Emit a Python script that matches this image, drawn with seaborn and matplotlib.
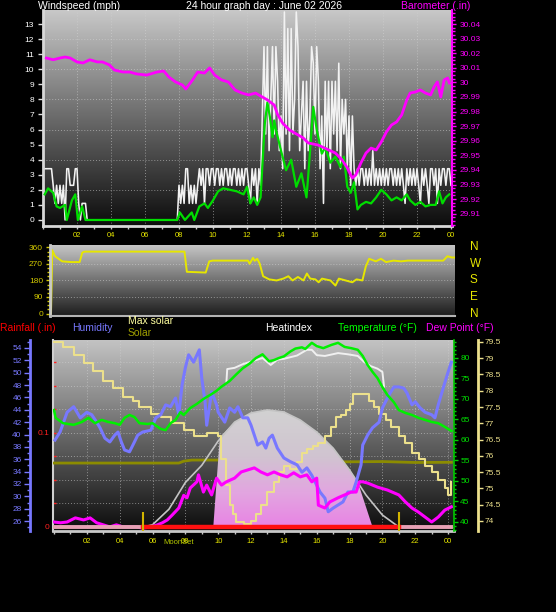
import numpy as np
import matplotlib
matplotlib.use("Agg")
import matplotlib.pyplot as plt
import seaborn as sns
from matplotlib.patches import Polygon
from matplotlib.ticker import MultipleLocator, FixedLocator, FuncFormatter
from matplotlib.colors import LinearSegmentedColormap

plt.rcParams['font.family'] = ['Liberation Sans', 'DejaVu Sans']

W, H = 556, 612

# ------------------------------------------------------------------ data
hour_ticks = [2, 4, 6, 8, 10, 12, 14, 16, 18, 20, 22, 24]
hour_labels = ['02', '04', '06', '08', '10', '12', '14', '16', '18', '20', '22', '00']

# wind gust (mph), one reading every 0.1 h
gust_mph = [
    3.4, 3.4, 3.4, 3.4, 3.4, 3.4, 2.3, 1.1, 2.3, 1.1,
    2.3, 1.1, 2.3, 0.0, 3.4, 3.4, 2.3, 2.3, 2.3, 3.4,
    3.4, 1.1, 0.0, 1.1, 1.1, 1.1, 0.0, 0.0, 0.0, 0.0,
    0.0, 0.0, 0.0, 0.0, 0.0, 0.0, 0.0, 0.0, 0.0, 0.0,
    0.0, 0.0, 0.0, 0.0, 0.0, 0.0, 0.0, 0.0, 0.0, 0.0,
    0.0, 0.0, 0.0, 0.0, 0.0, 0.0, 0.0, 0.0, 0.0, 0.0,
    0.0, 0.0, 0.0, 0.0, 0.0, 0.0, 0.0, 0.0, 0.0, 0.0,
    0.0, 0.0, 0.0, 0.0, 0.0, 0.0, 0.0, 0.0, 0.0, 0.0,
    2.3, 1.1, 2.3, 1.1, 3.4, 3.4, 1.1, 2.3, 1.1, 2.3,
    1.1, 2.3, 3.4, 2.3, 3.4, 1.1, 3.4, 3.4, 2.3, 3.4,
    3.4, 2.3, 3.4, 3.4, 2.3, 3.4, 2.3, 3.4, 3.4, 2.3,
    3.4, 2.3, 3.4, 3.4, 2.3, 3.4, 2.3, 3.4, 2.3, 3.4,
    3.4, 2.3, 1.1, 3.4, 2.3, 3.4, 1.1, 3.4, 2.3, 6.9,
    11.5, 5.7, 11.5, 4.6, 8.0, 11.5, 5.7, 11.5, 9.2, 4.6,
    6.9, 3.4, 13.8, 5.7, 12.7, 4.6, 12.7, 5.7, 8.0, 13.8,
    11.5, 4.6, 6.9, 9.2, 3.4, 9.2, 4.6, 6.9, 11.5, 10.4,
    5.7, 11.5, 9.2, 3.4, 6.9, 1.1, 9.2, 4.6, 9.2, 3.4,
    9.2, 5.7, 9.2, 4.6, 10.4, 3.4, 8.0, 5.7, 8.0, 3.4,
    6.9, 2.3, 6.9, 3.4, 2.3, 3.4, 2.3, 3.4, 3.4, 2.3,
    3.4, 2.3, 3.4, 2.3, 4.6, 2.3, 3.4, 2.3, 3.4, 2.3,
    3.4, 2.3, 3.4, 2.3, 3.4, 3.4, 2.3, 3.4, 2.3, 3.4,
    2.3, 3.4, 2.3, 1.1, 3.4, 2.3, 3.4, 2.3, 3.4, 2.3,
    3.4, 2.3, 1.1, 3.4, 2.3, 3.4, 2.3, 1.1, 3.4, 3.4,
    2.3, 3.4, 1.1, 3.4, 2.3, 3.4, 3.4, 2.3, 3.4, 3.4,
    2.3]
gust_step_h = 0.1

wind_avg = [(0.1, 1.7), (0.3, 2.1), (0.6, 1.8), (0.8, 0.9), (1.0, 0.8), (1.3, 1.0),
            (1.4, 0.0), (1.7, 1.3), (1.9, 1.7), (2.05, 0.0), (2.3, 0.9), (2.5, 0.0),
            (7.9, 0.0), (8.05, 0.5), (8.35, 0.0), (8.75, 0.5), (8.9, 0.0), (9.2, 0.9),
            (9.5, 1.1), (9.7, 0.8), (10.0, 1.3), (10.3, 1.9), (10.6, 2.1), (11.0, 2.0),
            (11.4, 1.9), (11.8, 1.7), (12.0, 2.2), (12.2, 1.1), (12.4, 1.5), (12.6, 1.0),
            (12.8, 1.5), (12.9, 3.5), (13.05, 6.4), (13.2, 7.8), (13.35, 6.8), (13.5, 5.5),
            (13.6, 6.6), (13.7, 6.0), (14.0, 4.6), (14.3, 3.3), (14.6, 4.0), (14.9, 2.2),
            (15.2, 3.1), (15.5, 1.5), (15.6, 2.9), (15.9, 7.5), (16.1, 6.0), (16.4, 4.4),
            (16.6, 4.8), (16.9, 3.8), (17.2, 4.2), (17.5, 3.5), (17.7, 4.2), (17.9, 2.2),
            (18.1, 1.8), (18.3, 2.5), (18.5, 0.7), (18.7, 1.0), (19.0, 1.2), (19.3, 1.1),
            (19.6, 1.5), (19.9, 2.0), (20.2, 1.7), (20.5, 1.3), (20.8, 1.5), (21.1, 1.3),
            (21.4, 1.7), (21.6, 1.3), (21.9, 1.0), (22.2, 1.2), (22.5, 0.9), (22.8, 1.0),
            (23.1, 1.0), (23.3, 1.9), (23.5, 1.1), (23.7, 1.5), (23.9, 1.7)]

barometer = [(0.2, 30.0167), (0.6, 30.0155), (1.0, 30.0167), (1.3, 30.0174), (1.6, 30.0167),
             (2.0, 30.0140), (2.35, 30.0133), (2.75, 30.0155), (3.2, 30.0140), (3.5, 30.0140),
             (3.9, 30.0120), (4.2, 30.0085), (4.7, 30.0071), (5.1, 30.0071), (5.5, 30.0058),
             (6.1, 30.0050), (6.7, 30.0071), (7.1, 30.0078), (7.4, 30.0037), (7.8, 30.0003),
             (8.2, 29.9982), (8.4, 29.9955), (8.8, 30.0017), (9.1, 30.0071), (9.5, 30.0064),
             (9.8, 30.0099), (10.1, 30.0050), (10.5, 30.0017), (10.9, 30.0003), (11.3, 29.9948),
             (11.7, 29.9927), (12.1, 29.9914), (12.5, 29.9927), (12.9, 29.9900), (13.2, 29.9880),
             (13.6, 29.9845), (13.8, 29.9780), (14.1, 29.9720), (14.5, 29.9674), (15.3, 29.9620),
             (15.6, 29.9585), (16.2, 29.9570), (16.8, 29.9537), (17.2, 29.9516), (17.6, 29.9468),
             (17.9, 29.9414), (18.1, 29.9366), (18.2, 29.9345), (18.4, 29.9366), (18.7, 29.9448),
             (19.0, 29.9516), (19.3, 29.9550), (19.6, 29.9537), (19.9, 29.9592), (20.2, 29.9660),
             (20.5, 29.9708), (20.8, 29.9729), (21.1, 29.9777), (21.4, 29.9880), (21.6, 29.9927),
             (21.9, 29.9934), (22.2, 29.9948), (22.5, 29.9927), (22.8, 29.9914), (23.0, 29.9968),
             (23.2, 30.0003), (23.4, 29.9900), (23.6, 30.0017), (23.8, 30.0030), (23.9, 29.9996)]
baro_ticks = [29.91, 29.92, 29.93, 29.94, 29.95, 29.96, 29.97, 29.98, 29.99,
              30.00, 30.01, 30.02, 30.03, 30.04]

wind_dir = [(0.0, 0), (0.07, 345), (0.24, 312), (0.45, 298), (0.66, 284), (1.2, 280),
            (1.7, 280), (1.86, 332), (2.0, 337), (7.93, 337), (8.07, 227), (9.19, 223),
            (9.4, 284), (9.6, 288), (11.7, 288), (11.8, 271), (12.0, 303), (12.1, 287),
            (12.25, 298), (12.4, 271), (12.6, 203), (12.96, 186), (13.4, 180), (13.8, 190),
            (14.1, 203), (14.35, 180), (14.67, 199), (15.0, 180), (15.2, 218), (15.4, 190),
            (15.7, 186), (15.9, 170), (16.1, 190), (16.6, 180), (16.9, 152), (17.1, 190),
            (17.5, 180), (17.9, 170), (18.15, 186), (18.5, 180), (18.7, 256), (18.9, 298),
            (19.3, 284), (19.6, 298), (19.9, 280), (20.35, 288), (20.8, 284), (21.2, 288),
            (23.3, 288), (23.55, 312), (23.8, 305), (24.0, 305)]
dir_ticks = [0, 90, 180, 270, 360]
compass = ['N', 'E', 'S', 'W', 'N']

humidity = [(0.06, 39.1), (0.37, 40.4), (0.8, 43.6), (1.2, 44.5), (1.6, 42.7), (2.0, 43.6),
            (2.3, 43.2), (2.6, 42.0), (2.8, 41.1), (3.1, 39.4), (3.4, 38.8), (3.7, 39.9),
            (3.9, 40.4), (4.1, 38.8), (4.3, 37.5), (4.6, 37.2), (4.9, 38.8), (5.1, 39.9),
            (5.4, 40.4), (5.9, 40.7), (6.2, 42.7), (6.5, 43.2), (6.8, 44.8), (7.1, 44.5),
            (7.4, 45.9), (7.6, 43.2), (7.8, 48.0), (8.0, 50.8), (8.2, 52.9), (8.5, 51.7),
            (8.85, 53.7), (9.0, 49.1), (9.2, 45.3), (9.3, 41.5), (9.6, 46.9), (9.9, 44.8),
            (10.0, 43.6), (10.4, 42.0), (10.7, 44.3), (11.0, 43.6), (11.2, 44.5), (11.5, 42.7),
            (11.8, 42.7), (12.0, 41.5), (12.2, 39.9), (12.4, 38.3), (12.7, 38.8), (12.9, 37.8),
            (13.1, 39.4), (13.3, 39.9), (13.6, 37.8), (14.0, 36.2), (14.4, 35.6), (14.8, 35.1),
            (15.1, 33.9), (15.4, 34.6), (15.7, 33.4), (16.0, 31.8), (16.2, 30.7), (16.5, 29.7),
            (16.7, 27.5), (17.0, 28.1), (17.3, 28.6), (17.6, 29.1), (17.9, 30.7), (18.2, 30.7),
            (18.4, 32.3), (18.7, 35.1), (18.8, 38.3), (19.1, 39.9), (19.4, 41.1), (19.8, 42.0),
            (20.0, 44.3), (20.4, 46.4), (20.7, 47.7), (21.0, 47.7), (21.3, 47.5), (21.5, 46.7),
            (21.8, 44.8), (22.0, 45.3), (22.3, 44.3), (22.6, 43.6), (23.0, 43.2), (23.2, 42.7),
            (23.4, 44.8), (23.7, 47.5), (24.0, 50.1), (24.2, 51.7)]

temperature = [(0.0, 67.3), (0.1, 65.4), (0.55, 64.1), (1.2, 63.7), (1.7, 64.4), (2.1, 65.4),
               (2.5, 64.1), (2.9, 64.9), (3.3, 64.4), (3.7, 64.1), (4.0, 63.7), (4.3, 65.4),
               (4.6, 66.1), (4.9, 65.6), (5.2, 64.1), (5.7, 63.9), (6.0, 64.1), (6.5, 62.7),
               (6.8, 62.4), (7.1, 64.1), (7.4, 64.9), (7.7, 66.8), (7.9, 66.1), (8.3, 67.8),
               (8.7, 68.8), (9.1, 70.0), (9.6, 71.2), (9.9, 72.0), (10.2, 73.0), (10.7, 74.4),
               (11.1, 76.0), (11.5, 77.5), (11.9, 78.6), (12.3, 80.0), (12.7, 80.9), (13.1, 79.2),
               (13.4, 79.5), (13.7, 80.0), (14.0, 80.4), (14.4, 81.6), (14.7, 82.3), (15.1, 82.6),
               (15.3, 82.2), (15.7, 83.7), (16.0, 82.9), (16.4, 82.4), (16.9, 83.2), (17.3, 83.7),
               (17.7, 82.7), (18.1, 82.4), (18.5, 82.0), (18.8, 80.5), (19.1, 78.3), (19.4, 76.6),
               (19.7, 75.1), (20.0, 72.9), (20.3, 71.0), (20.7, 69.2), (21.0, 67.3), (21.4, 66.6),
               (21.8, 66.1), (22.2, 65.4), (22.6, 64.9), (23.0, 64.4), (23.4, 64.1), (23.8, 63.2),
               (24.2, 62.2)]

heat_index = [(10.5, 74.1), (10.55, 77.3), (11.0, 77.6), (11.5, 78.5), (11.9, 79.0),
              (12.3, 79.5), (12.7, 80.0), (13.2, 78.3), (13.6, 79.6), (14.0, 79.8),
              (14.8, 80.6), (15.4, 82.0), (15.7, 82.0), (16.0, 80.7), (16.5, 80.5),
              (17.3, 81.2), (17.9, 80.9), (18.5, 80.5), (18.9, 79.0), (19.3, 78.0),
              (19.7, 77.4), (20.0, 76.6), (20.1, 73.0)]

dew_point = [(0.0, 40.0), (0.4, 39.8), (0.8, 40.0), (1.3, 41.0), (1.8, 40.5), (2.2, 41.0),
             (2.6, 39.8), (3.0, 39.3), (3.4, 38.8), (3.8, 39.3), (4.2, 38.8), (4.6, 38.8),
             (5.0, 38.8), (5.4, 38.5), (5.9, 38.8), (6.3, 39.3), (6.6, 39.8), (6.9, 40.5),
             (7.2, 41.7), (7.6, 43.4), (7.9, 46.5), (8.1, 45.9), (8.3, 48.3), (8.7, 49.8),
             (8.8, 51.5), (9.1, 47.3), (9.3, 49.0), (9.6, 46.6), (9.9, 50.7), (10.2, 49.0),
             (10.5, 49.8), (11.0, 50.7), (11.4, 52.2), (11.8, 52.7), (12.2, 53.2), (12.6, 52.2),
             (13.0, 51.5), (13.4, 52.2), (13.8, 51.5), (14.2, 51.0), (14.6, 52.0), (15.0, 51.0),
             (15.4, 51.5), (15.7, 49.8), (16.0, 50.7), (16.1, 44.1), (16.5, 43.4), (16.8, 44.9),
             (17.3, 45.9), (17.7, 46.6), (18.1, 47.3), (18.4, 47.3), (18.6, 49.8), (18.8, 49.8),
             (19.1, 49.5), (19.7, 48.5), (20.3, 47.8), (21.0, 46.6), (21.4, 44.9), (21.8, 43.4),
             (22.2, 42.4), (22.6, 41.2), (23.0, 40.0), (23.4, 41.2), (23.8, 42.9), (24.2, 43.7)]

indoor = [(0.0, 79.5), (0.55, 79.35), (1.2, 79.1), (1.8, 78.85), (2.4, 78.6), (3.0, 78.3),
          (3.6, 78.1), (4.2, 77.8), (4.8, 77.7), (5.2, 77.5), (5.9, 77.3), (6.5, 77.2),
          (7.1, 77.0), (7.9, 76.8), (8.5, 76.6), (9.3, 76.7), (10.0, 76.6), (10.2, 75.9),
          (10.5, 75.1), (10.7, 74.5), (10.9, 74.2), (11.1, 73.96), (11.6, 73.9), (12.0, 74.0),
          (12.3, 74.2), (12.6, 74.5), (13.0, 74.9), (13.4, 75.2), (13.7, 75.5), (14.0, 75.7),
          (14.4, 75.6), (14.8, 75.8), (15.1, 76.1), (15.4, 76.2), (15.8, 76.3), (16.1, 76.4),
          (16.5, 76.6), (16.9, 76.9), (17.2, 77.2), (17.5, 77.25), (17.8, 77.4), (18.0, 77.6),
          (18.2, 77.9), (18.9, 77.9), (19.2, 77.7), (19.5, 77.5), (19.8, 77.3), (20.2, 77.1),
          (20.5, 76.9), (21.0, 76.6), (21.4, 76.4), (21.8, 76.1), (22.2, 75.9), (22.6, 75.7),
          (23.0, 75.5), (23.4, 75.25), (23.8, 75.0), (24.0, 74.8), (24.2, 75.2)]

max_solar = [(5.44, 0), (6.0, 12), (7.0, 95), (8.0, 238), (9.0, 330), (10.0, 460),
             (11.0, 561), (12.0, 610), (13.0, 626), (14.0, 615), (15.0, 572), (16.0, 508),
             (17.0, 422), (18.0, 305), (19.0, 171), (20.0, 64), (21.0, 0)]
solar_fill = [(9.7, 0), (10.1, 480), (11.0, 561), (12.0, 610), (13.0, 626), (14.0, 615),
              (15.0, 572), (16.0, 508), (17.0, 422), (18.0, 305), (18.5, 241), (19.4, 0)]
solar_level = [(0.0, 342), (7.6, 342), (7.9, 352), (8.4, 358), (10.0, 358), (17.0, 348),
               (20.0, 350), (22.0, 345), (24.2, 346)]

rain_t = [0.0, 24.2]
rain_in = [0.0, 0.0]
sun_events = [5.44, 21.0]   # sunrise, sunset
daylight_rain = [0.0, 0.0]


def unzip(pairs):
    a = np.array(pairs, dtype=float)
    return a[:, 0], a[:, 1]


# ------------------------------------------------------------------ helpers
fig = plt.figure(figsize=(W / 100, H / 100), dpi=100)
fig.patch.set_facecolor('black')
PX = 72 / 100  # points per pixel


def rect(l, t, r, b):
    return [l / W, 1 - b / H, (r - l) / W, (b - t) / H]


def gradient(ax, top, bottom):
    g = np.linspace(bottom, top, 256)[:, None] / 255.0
    img = np.dstack([g, g, g])
    ax.imshow(img, extent=(0, 1, 0, 1), transform=ax.transAxes, origin='lower',
              aspect='auto', zorder=0, interpolation='bilinear')


def line(ax, x, y, color, lw, **kw):
    sns.lineplot(x=np.asarray(x, float), y=np.asarray(y, float), ax=ax, color=color,
                 linewidth=lw, estimator=None, sort=False, legend=False, **kw)


def hide(ax):
    for s in ax.spines.values():
        s.set_visible(False)


def ftext(x, y, s, color, size=7.5, **kw):
    fig.text(x / W, 1 - y / H, s, color=color, fontsize=size, ha='left',
             va='baseline', **kw)


DOT = (0, (1, 2))
GRID = dict(color='#d4d4d4', linestyle=DOT, linewidth=0.7, alpha=0.55)
XLAB = '#e6e600'

# ------------------------------------------------------------------ panel 1
ax1 = fig.add_axes(rect(43, 10, 452, 226))
ax1.set_facecolor('black')
gradient(ax1, 200, 12)
ax1.set_axisbelow(True)
for lv in range(2, 14, 2):
    ax1.axhline(lv, zorder=0.5, **GRID)
gust_t = np.arange(len(gust_mph)) * gust_step_h
line(ax1, gust_t, gust_mph, '#f2f2f2', 1.15, zorder=2)
wt, wv = unzip(wind_avg)
line(ax1, wt, wv, '#00dd00', 1.6, zorder=3)
ax1.set_xlim(0, 24.06)
ax1.set_ylim(-0.4, 13.93)
ax1.xaxis.set_major_locator(FixedLocator(hour_ticks))
ax1.set_xticklabels(hour_labels)
ax1.xaxis.set_minor_locator(MultipleLocator(1))
ax1.grid(axis='x', which='major', **GRID)
ax1.set_yticks(range(0, 14))
ax1.tick_params(axis='x', which='both', colors='#c8c8c8', labelcolor=XLAB,
                labelsize=5.5, length=2.5, width=1, pad=1.5)
ax1.tick_params(axis='y', colors='#e0e0e0', labelcolor='white', labelsize=6,
                length=3.5, width=1, pad=3)
hide(ax1)
for s in ('left', 'bottom'):
    ax1.spines[s].set_visible(True)
    ax1.spines[s].set_color('#d8d8d8')
    ax1.spines[s].set_linewidth(2)
ax1.set_xlabel('')
ax1.set_ylabel('')

ax1b = ax1.twinx()
bt, bv = unzip(barometer)
line(ax1b, bt, bv, '#ff00ff', 2.0)
ax1b.set_ylim(29.9016, 30.0496)
ax1b.set_yticks(baro_ticks)
ax1b.yaxis.set_major_formatter(FuncFormatter(
    lambda v, p: f"{v:.2f}".rstrip('0').rstrip('.')))
ax1b.yaxis.set_minor_locator(MultipleLocator(0.0025))
ax1b.tick_params(axis='y', which='major', colors='#ff00ff', labelcolor='#ff00ff',
                 labelsize=6, length=3, width=1, pad=2.5)
ax1b.tick_params(axis='y', which='minor', colors='#ff00ff', length=1.8, width=1)
hide(ax1b)
ax1b.spines['right'].set_visible(True)
ax1b.spines['right'].set_color('#ff00ff')
ax1b.spines['right'].set_linewidth(1.5)
ax1b.set_ylabel('')

ftext(38, 9.3, 'Windspeed (mph)', 'white')
ftext(186, 9.3, '24 hour graph day : June 02 2026', 'white')
ftext(401, 9.3, 'Barometer (.in)', '#ff00ff')

# ------------------------------------------------------------------ panel 2
ax2 = fig.add_axes(rect(50, 245, 455, 316))
ax2.set_facecolor('black')
gradient(ax2, 200, 28)
ax2.set_axisbelow(True)
for lv in dir_ticks[1:-1]:
    ax2.axhline(lv, zorder=0.5, **GRID)
dt, dv = unzip(wind_dir)
line(ax2, dt, dv, '#e6e600', 1.4)
ax2.set_xlim(-0.06, 24.0)
ax2.set_ylim(-13.6, 373)
ax2.set_xticks([])
ax2.set_yticks(dir_ticks)
ax2.yaxis.set_minor_locator(MultipleLocator(22.5))
ax2.tick_params(axis='y', which='major', colors='#d2c800', labelcolor='#d2c800',
                labelsize=6, length=3, width=1, pad=2)
ax2.tick_params(axis='y', which='minor', colors='#d2c800', length=2, width=1)
hide(ax2)
ax2.spines['left'].set_visible(True)
ax2.spines['left'].set_color('#c8c8c8')
ax2.spines['left'].set_linewidth(2)
ax2.spines['bottom'].set_visible(True)
ax2.spines['bottom'].set_color('#b4b4b4')
ax2.spines['bottom'].set_linewidth(1.5)
ax2.set_xlabel('')
ax2.set_ylabel('')
for deg, lab in zip(dir_ticks, compass):
    ax2.text((470 - 50) / 405, deg, lab, transform=ax2.get_yaxis_transform(),
             color='#e6e600', fontsize=8.5, ha='left', va='center', clip_on=False)

# ------------------------------------------------------------------ panel 3
ax3 = fig.add_axes(rect(53, 340, 454, 531))
ax3.set_facecolor('black')
gradient(ax3, 195, 12)
ax3.set_axisbelow(True)
ax3.set_xlim(-0.06, 24.36)
ax3.set_ylim(-0.0043, 0.1989)
ax3.xaxis.set_major_locator(FixedLocator(hour_ticks))
ax3.set_xticklabels(hour_labels)
ax3.xaxis.set_minor_locator(MultipleLocator(1))
ax3.set_yticks([0, 0.1])
ax3.set_yticklabels(['0', '0.1'])
ax3.yaxis.set_minor_locator(MultipleLocator(0.025))
ax3.grid(axis='x', which='major', **GRID)
ax3.grid(axis='y', which='both', **GRID)
ax3.tick_params(axis='x', which='both', colors='#c8c8c8', labelcolor=XLAB,
                labelsize=5.5, length=2.5, width=1, pad=2.6)
ax3.tick_params(axis='y', which='both', colors='#ff2020', labelcolor='#ff2020',
                labelsize=6, direction='in', length=2.5, width=1, pad=2.5)
hide(ax3)
ax3.spines['left'].set_visible(True)
ax3.spines['left'].set_color('#d0d0d0')
ax3.spines['left'].set_linewidth(1.5)
ax3.spines['bottom'].set_visible(True)
ax3.spines['bottom'].set_color('#c8c8c8')
ax3.spines['bottom'].set_linewidth(2)

# solar (dome + max solar curve)
ax_s = ax3.twinx()
hide(ax_s)
ax_s.set_yticks([])
st, sv = unzip(solar_level)
line(ax_s, st, sv, '#8c8c00', 2.0, zorder=0.9)
ft, fv = unzip(solar_fill)
dome = Polygon(np.column_stack([ft, fv]), closed=True, facecolor='none',
               edgecolor='none', transform=ax_s.transData)
ax_s.add_patch(dome)
dome_cmap = LinearSegmentedColormap.from_list(
    'dome', [(0.0, '#e884e4'), (0.3, '#e2a6e0'), (0.6, '#d0c4d0'), (1.0, '#d2d2d2')])
grad = np.linspace(0, 1, 256)[:, None]
im = ax_s.imshow(grad, cmap=dome_cmap, extent=(ft.min(), ft.max(), 0, fv.max()),
                 origin='lower', aspect='auto', zorder=1, interpolation='bilinear')
im.set_clip_path(dome)
mt, mv = unzip(max_solar)
line(ax_s, mt, mv, '#c4c4c4', 1.2, zorder=2)
ax_s.set_ylim(-21.4, 1000)
ax_s.set_ylabel('')

# indoor temperature (light-yellow axis)
ax_y = ax3.twinx()
it, iv = unzip(indoor)
line(ax_y, it, iv, '#ece08c', 1.5, drawstyle='steps-post')
ax_y.set_ylim(73.69, 79.56)
ax_y.set_yticks(np.arange(74, 79.6, 0.5))
ax_y.yaxis.set_major_formatter(FuncFormatter(lambda v, p: f"{v:g}"))
ax_y.tick_params(axis='y', colors='#ece08c', labelcolor='#ece08c', labelsize=6,
                 length=3.5, width=1, pad=1)
hide(ax_y)
ax_y.spines['right'].set_visible(True)
ax_y.spines['right'].set_position(('outward', 24 * PX))
ax_y.spines['right'].set_color('#ece08c')
ax_y.spines['right'].set_linewidth(2)
ax_y.set_ylabel('')

# humidity (blue, left offset axis)
ax_h = ax3.twinx()
ht, hv = unzip(humidity)
line(ax_h, ht, hv, '#7878ff', 2.2)
ax_h.set_ylim(24.39, 55.29)
ax_h.yaxis.tick_left()
ax_h.set_yticks(range(26, 55, 2))
ax_h.yaxis.set_minor_locator(MultipleLocator(1))
ax_h.tick_params(axis='y', which='major', colors='#7878ff', labelcolor='#7878ff',
                 labelsize=6, length=4, width=1, pad=2)
ax_h.tick_params(axis='y', which='minor', colors='#7878ff', length=2, width=1)
hide(ax_h)
ax_h.spines['left'].set_visible(True)
ax_h.spines['left'].set_position(('outward', 23 * PX))
ax_h.spines['left'].set_color('#7878ff')
ax_h.spines['left'].set_linewidth(2)
ax_h.set_ylabel('')

# temperature / dew point / heat index (green axis)
ax_t = ax3.twinx()
dpt, dpv = unzip(dew_point)
line(ax_t, dpt, dpv, '#ff00ff', 2.2)
hit, hiv = unzip(heat_index)
line(ax_t, hit, hiv, '#f0f0f0', 1.4)
tt, tv = unzip(temperature)
line(ax_t, tt, tv, '#00f000', 1.8)
ax_t.set_ylim(37.8, 84.39)
ax_t.set_yticks(range(40, 81, 5))
ax_t.yaxis.set_minor_locator(MultipleLocator(1))
ax_t.tick_params(axis='y', which='major', colors='#00d000', labelcolor='#00e000',
                 labelsize=6, length=3, width=1, pad=1.5)
ax_t.tick_params(axis='y', which='minor', colors='#00d000', length=1.5, width=1)
hide(ax_t)
ax_t.spines['right'].set_visible(True)
ax_t.spines['right'].set_color('#00c800')
ax_t.spines['right'].set_linewidth(1.2)
ax_t.set_ylabel('')

# rainfall + daylight markers
ax_r = ax3.twinx()
hide(ax_r)
ax_r.set_yticks([])
line(ax_r, rain_t, rain_in, '#e6a0b4', 2.8)
line(ax_r, sun_events, daylight_rain, '#ff1010', 3.2)
ax_r.vlines(sun_events, -0.0043, 0.016, colors='#d2b400', linewidth=1.5)
ax_r.set_ylim(-0.0043, 0.1989)
ax_r.set_ylabel('')
ax3.set_xlim(-0.06, 24.36)
ax3.set_xlabel('')
ax3.set_ylabel('')

ftext(0, 331, 'Rainfall (.in)', '#ff0000')
ftext(72, 331, 'Humidity', '#7878ff')
ftext(128, 323.5, 'Max solar', '#ffffa0')
ftext(128, 335.5, 'Solar', '#a0a000')
ftext(265, 331, 'Heatindex', 'white')
ftext(338, 331, 'Temperature (°F)', '#00ff00')
ftext(426, 331, 'Dew Point (°F)', '#ff00ff')
ftext(163, 544.5, 'MoonSet', '#b4c800', size=5.5)

fig.savefig('out.png', dpi=100, facecolor='black')
